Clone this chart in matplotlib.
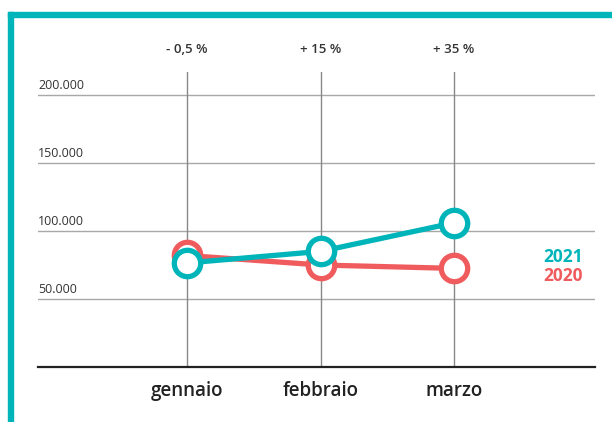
import matplotlib.pyplot as plt
from matplotlib.patches import Rectangle

plt.rcParams['font.family'] = ['Open Sans', 'DejaVu Sans']

# Data
months = ['gennaio', 'febbraio', 'marzo']
changes = ['- 0,5 %', '+ 15 %', '+ 35 %']
sales_2020 = [82000, 75000, 72500]
sales_2021 = [76500, 85000, 106000]
y_ticks = [50000, 100000, 150000, 200000]
y_labels = ['50.000', '100.000', '150.000', '200.000']

teal = '#00b5ba'
red = '#f05c5e'

fig = plt.figure(figsize=(6.12, 4.22), dpi=100)
W, H = 612, 422

# teal frame (top and left)
fig.patches.append(Rectangle((8 / W, 0), 5 / W, (H - 12) / H, transform=fig.transFigure,
                             color=teal, zorder=0))
fig.patches.append(Rectangle((8 / W, 1 - 17 / H), 1, 5 / H, transform=fig.transFigure,
                             color=teal, zorder=0))

ax = fig.add_axes([38 / W, 1 - 367 / H, (595 - 38) / W, (367 - 72) / H])
x = list(range(len(months)))
ax.set_xlim(-1.116, 3.056)
ax.set_ylim(0, 216900)
for s in ax.spines.values():
    s.set_visible(False)
ax.set_xticks([])
ax.set_yticks([])

# grid
for v, lab in zip(y_ticks, y_labels):
    ax.axhline(v, color='#a8a8a8', lw=1, zorder=1)
    ax.annotate(lab, (-1.116, v), xytext=(0, 2), textcoords='offset points',
                fontsize=9, color='#333333', ha='left', va='bottom')
ax.axhline(0, color='#222222', lw=1.6, zorder=2, clip_on=False)
for xi, ch in zip(x, changes):
    ax.axvline(xi, color='#888888', lw=1, zorder=1)
    ax.annotate(ch, (xi, 216900), xytext=(0, 16), textcoords='offset points',
                ha='center', va='center', fontsize=9.5, fontweight='semibold', color='#333333')
    ax.annotate(months[xi], (xi, 0), xytext=(0, -17), textcoords='offset points',
                ha='center', va='center', fontsize=13.5, fontweight='semibold', color='#222222')

# lines
ax.plot(x, sales_2020, color=red, lw=3.8, marker='o', markersize=19,
        markerfacecolor='white', markeredgecolor=red, markeredgewidth=3.8, zorder=3,
        clip_on=False)
ax.plot(x, sales_2021, color=teal, lw=3.8, marker='o', markersize=19,
        markerfacecolor='white', markeredgecolor=teal, markeredgewidth=3.8, zorder=4,
        clip_on=False)

# legend labels
ax.text(2.67, 81000, '2021', color=teal, fontsize=12.5, fontweight='bold', va='center')
ax.text(2.67, 67000, '2020', color=red, fontsize=12.5, fontweight='bold', va='center')

fig.savefig('out.png', dpi=100)
